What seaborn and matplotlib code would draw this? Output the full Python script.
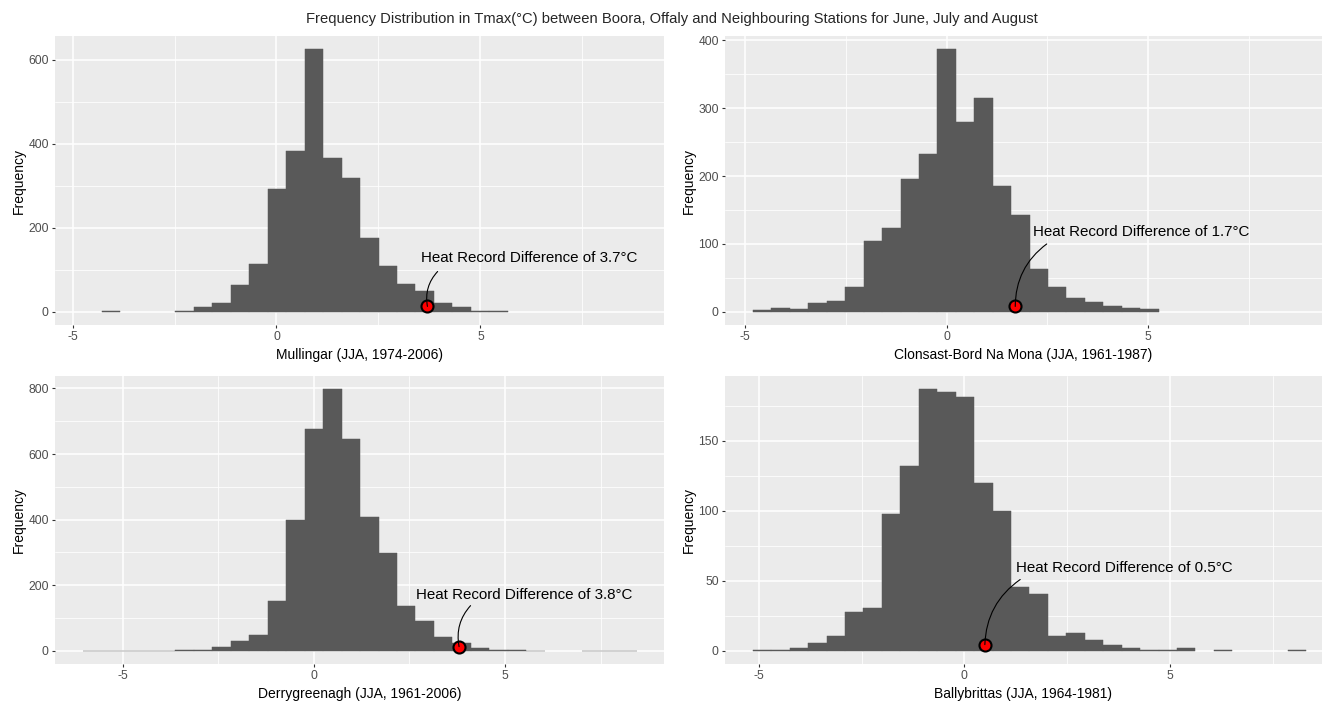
import matplotlib
matplotlib.use("Agg")
import numpy as np
import pandas as pd
import seaborn as sns
import matplotlib.pyplot as plt
from matplotlib.ticker import MultipleLocator

# ---------------- data ----------------
title = ("Frequency Distribution in Tmax(\u00b0C) between Boora, Offaly and "
         "Neighbouring Stations for June, July and August")

stations = ["Mullingar (JJA, 1974-2006)",
            "Clonsast-Bord Na Mona (JJA, 1961-1987)",
            "Derrygreenagh (JJA, 1961-2006)",
            "Ballybrittas (JJA, 1964-1981)"]

# histogram bins: first bin edge and bin width (deg C), then counts per bin
bin_start = [-4.286, -4.806, -6.04, -5.144]
bin_width = [0.4525, 0.4575, 0.4833, 0.4486]

counts_mullingar = [2, 0, 0, 0, 2, 12, 21, 63, 113, 293, 383, 625, 367, 318,
                    175, 108, 66, 49, 21, 11, 2, 1]
counts_clonsast = [3, 6, 4, 13, 16, 37, 105, 124, 195, 232, 387, 279, 315, 186,
                   142, 63, 37, 20, 14, 9, 6, 4]
counts_derry = [1, 1, 1, 1, 1, 2, 3, 13, 29, 49, 152, 400, 676, 798, 647, 408,
                299, 137, 90, 43, 24, 9, 3, 3, 1, 0, 0, 1, 1, 1]
counts_bally = [1, 1, 2, 6, 11, 28, 31, 98, 132, 187, 185, 181, 120, 100, 46,
                41, 11, 13, 8, 4, 2, 1, 1, 2, 0, 1, 0, 0, 0, 1]
all_counts = [counts_mullingar, counts_clonsast, counts_derry, counts_bally]

# heat record difference (deg C) and the frequency level of the marker
record_diff = [3.7, 1.7, 3.8, 0.5]
record_freq = [13, 8, 13, 4.5]

# ---------------- layout ----------------
W, H = 1324, 702
xlims = [(-5.43, 9.5), (-5.5, 9.31), (-6.77, 9.16), (-5.82, 8.7)]
ysteps = [200, 100, 200, 50]
# (left, bottom, right, top) in pixels from top-left
boxes = [(55, 325, 664, 36), (725, 325, 1322, 36),
         (55, 664, 664, 376), (725, 664, 1322, 376)]
# label centre and arrow start (data coords)
label_pos = [(6.2, 127), (4.83, 118), (5.49, 171), (3.89, 59)]
arrow_start = [(3.95, 96), (2.48, 100), (4.10, 138), (1.36, 51)]

sns.set_theme(style="darkgrid")
plt.rcParams.update({
    "font.family": ["Liberation Sans", "DejaVu Sans"],
    "axes.facecolor": "#EBEBEB",
    "grid.color": "white",
    "axes.unicode_minus": False,
})

fig = plt.figure(figsize=(W / 100, H / 100), dpi=100)
fig.patch.set_facecolor("white")

for i in range(4):
    l, b, r, t = boxes[i]
    ax = fig.add_axes([l / W, 1 - b / H, (r - l) / W, (b - t) / H])
    counts = np.array(all_counts[i], dtype=float)
    nb = len(counts)
    lo = bin_start[i]
    hi = bin_start[i] + bin_width[i] * nb
    centers = lo + bin_width[i] * (np.arange(nb) + 0.5)
    df = pd.DataFrame({"x": centers, "n": counts})
    sns.histplot(data=df, x="x", weights="n", bins=nb, binrange=(lo, hi),
                 ax=ax, color="#595959", edgecolor="#595959", linewidth=0.35,
                 alpha=1)
    for p in ax.patches:
        if p.get_height() <= 0:
            p.set_visible(False)
    M = counts.max()
    ax.set_ylim(-0.05 * M, 1.05 * M)
    ax.set_xlim(*xlims[i])
    ax.xaxis.set_major_locator(MultipleLocator(5))
    ax.xaxis.set_minor_locator(MultipleLocator(2.5))
    ax.yaxis.set_major_locator(MultipleLocator(ysteps[i]))
    ax.yaxis.set_minor_locator(MultipleLocator(ysteps[i] / 2))
    ax.grid(which="major", color="white", linewidth=1.1)
    ax.grid(which="minor", color="white", linewidth=0.55)
    ax.set_axisbelow(True)
    for s in ax.spines.values():
        s.set_visible(False)
    ax.tick_params(which="major", length=2.5, width=0.8, color="#333333",
                   labelcolor="#4D4D4D", labelsize=8.7, pad=2,
                   bottom=True, left=True)
    ax.tick_params(which="minor", length=0)
    ax.set_xlabel(stations[i], fontsize=10, color="black", labelpad=3.5)
    ax.set_ylabel("Frequency", fontsize=10, color="black", labelpad=2)

    # record marker and annotation
    ax.scatter([record_diff[i]], [record_freq[i]], s=75, color="red",
               edgecolor="black", linewidth=1.5, zorder=5)
    ax.annotate("", xy=(record_diff[i], record_freq[i]), xytext=arrow_start[i],
                arrowprops=dict(arrowstyle="-", color="black", lw=0.8,
                                connectionstyle="arc3,rad=0.25",
                                shrinkA=0, shrinkB=0), zorder=6)
    ax.text(*label_pos[i], f"Heat Record Difference of {record_diff[i]}\u00b0C",
            ha="center", va="center", fontsize=10.9, color="black", zorder=7)

fig.text(0.5076, 1 - 19 / H, title, ha="center", va="center", fontsize=10.6)

fig.savefig("out.png", dpi=100)
